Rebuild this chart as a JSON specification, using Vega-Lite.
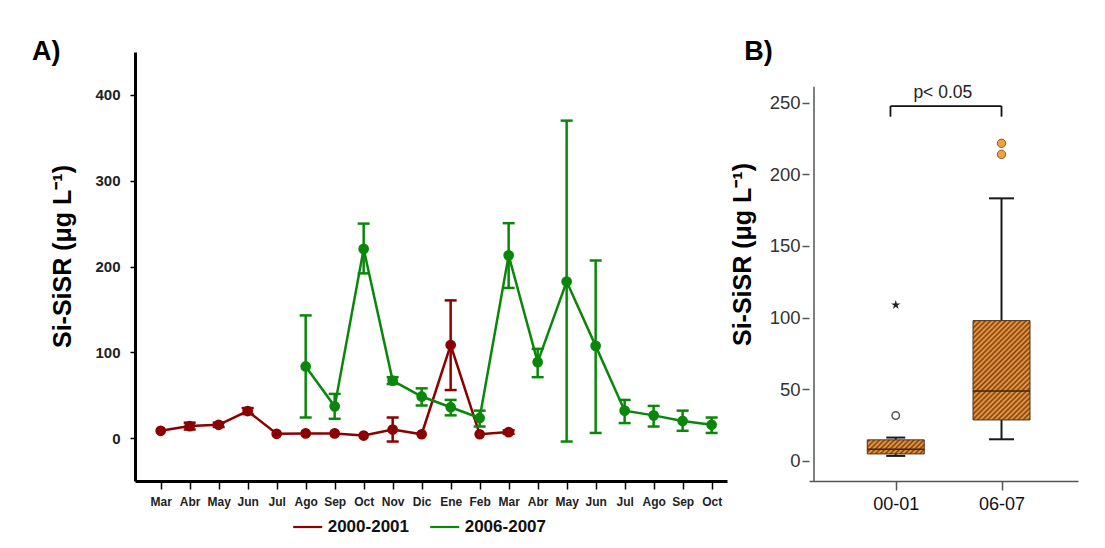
{
"$schema": "https://vega.github.io/schema/vega-lite/v6.json",
"background": "white",
"padding": {"left": 32, "top": 37, "right": 5, "bottom": 5},
"spacing": 3,
"config": {"font": "Liberation Sans", "view": {"stroke": null}, "axis": {"grid": false}},
"datasets": {
"ts": [
{"i":0,"s":"2000-2001","v":8.5,"lo":null,"hi":null},
{"i":1,"s":"2000-2001","v":14,"lo":10,"hi":18},
{"i":2,"s":"2000-2001","v":15.5,"lo":13,"hi":18},
{"i":3,"s":"2000-2001","v":31.5,"lo":28,"hi":35},
{"i":4,"s":"2000-2001","v":5,"lo":null,"hi":null},
{"i":5,"s":"2000-2001","v":5.5,"lo":null,"hi":null},
{"i":6,"s":"2000-2001","v":5.5,"lo":null,"hi":null},
{"i":7,"s":"2000-2001","v":3,"lo":null,"hi":null},
{"i":8,"s":"2000-2001","v":10,"lo":-4,"hi":24},
{"i":9,"s":"2000-2001","v":4.5,"lo":null,"hi":null},
{"i":10,"s":"2000-2001","v":108.5,"lo":56,"hi":160.5},
{"i":11,"s":"2000-2001","v":4.5,"lo":null,"hi":null},
{"i":12,"s":"2000-2001","v":7,"lo":5,"hi":9},
{"i":5,"s":"2006-2007","v":83.5,"lo":24,"hi":143},
{"i":6,"s":"2006-2007","v":37,"lo":22.5,"hi":51.5},
{"i":7,"s":"2006-2007","v":220.5,"lo":192,"hi":250},
{"i":8,"s":"2006-2007","v":67,"lo":63,"hi":71},
{"i":9,"s":"2006-2007","v":48.5,"lo":38,"hi":58},
{"i":10,"s":"2006-2007","v":36,"lo":26.5,"hi":44.5},
{"i":11,"s":"2006-2007","v":23.5,"lo":13.5,"hi":32},
{"i":12,"s":"2006-2007","v":213,"lo":175,"hi":250.5},
{"i":13,"s":"2006-2007","v":88.5,"lo":71,"hi":104},
{"i":14,"s":"2006-2007","v":182.5,"lo":-4,"hi":370},
{"i":15,"s":"2006-2007","v":107.5,"lo":6,"hi":207},
{"i":16,"s":"2006-2007","v":32,"lo":17.5,"hi":44.5},
{"i":17,"s":"2006-2007","v":26.5,"lo":13.5,"hi":37.5},
{"i":18,"s":"2006-2007","v":20,"lo":8.5,"hi":32},
{"i":19,"s":"2006-2007","v":15.5,"lo":6,"hi":24}
],
"boxes": [
{"g":0,"lo":3.5,"q1":4.9,"med":8.2,"q3":14.7,"hi":16.3},
{"g":1,"lo":15.1,"q1":28.6,"med":48.8,"q3":97.9,"hi":183.2}
],
"outl": [
{"g":0,"v":31.7,"kind":"outlier"},
{"g":0,"v":108.8,"kind":"extreme"},
{"g":1,"v":213.9,"kind":"outlier2"},
{"g":1,"v":221.6,"kind":"outlier2"}
],
"brk": [
{"x":-0.05,"x2":1.0,"y":247.6,"y2":247.6},
{"x":-0.05,"x2":-0.05,"y":247.6,"y2":240.2},
{"x":1.0,"x2":1.0,"y":247.6,"y2":240.2}
],
"axisline": [{"x":-0.773,"y":-14,"y2":261}],
"lbl": [{"x":0.445,"y":253,"t":"p< 0.05"}]
},
"hconcat": [
{
"width": 592, "height": 429,
"title": {"text": "A)", "fontSize": 27, "fontWeight": "bold", "anchor": "start", "frame": "group", "dx": -103, "offset": -40.7, "baseline": "bottom", "color": "#000"},
"data": {"name": "ts"},
"layer": [
{"mark": {"type": "line", "strokeWidth": 2.5},
 "encoding": {
  "x": {"field": "i", "type": "quantitative", "scale": {"domain": [-0.886, 19.53], "nice": false, "zero": false},
        "axis": {"values": [0,1,2,3,4,5,6,7,8,9,10,11,12,13,14,15,16,17,18,19], "tickCount": 40,
                 "labelExpr": "['Mar','Abr','May','Jun','Jul','Ago','Sep','Oct','Nov','Dic','Ene','Feb','Mar','Abr','May','Jun','Jul','Ago','Sep','Oct'][datum.value]",
                 "title": null, "labelFontSize": 12, "labelFontWeight": "bold", "labelColor": "#222", "labelPadding": 7,
                 "tickSize": 8, "tickColor": "#000", "tickWidth": 1.5, "domainColor": "#000", "domainWidth": 3,
                 "labelFlush": false, "labelOverlap": false}},
  "y": {"field": "v", "type": "quantitative", "scale": {"domain": [-50, 450], "nice": false, "zero": false},
        "axis": {"values": [0,100,200,300,400], "tickCount": 10, "title": "Si-SiSR (μg L⁻¹)", "titleFontSize": 25, "titleFontWeight": "bold",
                 "titleColor": "#000", "titleX": -60, "titleY": 204, "titleAngle": -90, "titleAlign": "center", "titleBaseline": "bottom",
                 "labelFontSize": 15, "labelFontWeight": "bold", "labelColor": "#222", "labelPadding": 10,
                 "tickSize": 5, "tickColor": "#000", "tickWidth": 1.5, "domainColor": "#000", "domainWidth": 3}},
  "color": {"field": "s", "type": "nominal", "scale": {"domain": ["2000-2001", "2006-2007"], "range": ["#8b0000", "#0a870a"]},
            "legend": {"orient": "none", "legendX": 156.7, "legendY": 459, "direction": "horizontal", "title": null,
                       "symbolType": "stroke", "symbolSize": 841, "symbolStrokeWidth": 2.2, "labelFontSize": 17,
                       "labelFontWeight": "bold", "labelColor": "#111", "labelOffset": 4, "columnPadding": 16}}
 }},
{"mark": {"type": "rule", "strokeWidth": 2.5, "opacity": 1},
 "encoding": {
  "x": {"field": "i", "type": "quantitative"},
  "y": {"field": "lo", "type": "quantitative"},
  "y2": {"field": "hi"},
  "color": {"field": "s", "type": "nominal"}
 }},
{"mark": {"type": "tick", "orient": "horizontal", "size": 12, "thickness": 2.5, "opacity": 1},
 "encoding": {
  "x": {"field": "i", "type": "quantitative"},
  "y": {"field": "lo", "type": "quantitative"},
  "color": {"field": "s", "type": "nominal"}
 }},
{"mark": {"type": "tick", "orient": "horizontal", "size": 12, "thickness": 2.5, "opacity": 1},
 "encoding": {
  "x": {"field": "i", "type": "quantitative"},
  "y": {"field": "hi", "type": "quantitative"},
  "color": {"field": "s", "type": "nominal"}
 }},
{"mark": {"type": "circle", "size": 115, "opacity": 1},
 "encoding": {
  "x": {"field": "i", "type": "quantitative"},
  "y": {"field": "v", "type": "quantitative"},
  "color": {"field": "s", "type": "nominal"}
 }}
]
},
{
"width": 269, "height": 429,
"title": {"text": "B)", "fontSize": 27, "fontWeight": "bold", "anchor": "start", "frame": "group", "dx": -64.7, "offset": -40.7, "baseline": "bottom", "color": "#000"},
"layer": [
{"data": {"name": "boxes"},
 "mark": {"type": "rule", "strokeWidth": 2, "color": "#1a1a1a"},
 "encoding": {
  "x": {"field": "g", "type": "quantitative", "scale": {"domain": [-0.773, 1.676], "nice": false, "zero": false},
        "axis": {"values": [0, 1], "labelExpr": "datum.value == 0 ? '00-01' : '06-07'", "title": null,
                 "labelFontSize": 18, "labelColor": "#111", "labelPadding": 5, "tickSize": 9, "tickColor": "#555",
                 "tickWidth": 1.5, "domainColor": "#555", "domainWidth": 1.5, "labelFlush": false}},
  "y": {"field": "q3", "type": "quantitative", "scale": {"domain": [-14, 285.3], "nice": false, "zero": false},
        "axis": {"values": [0,50,100,150,200,250], "tickCount": 12, "title": "Si-SiSR (μg L⁻¹)", "titleFontSize": 25, "titleFontWeight": "bold",
                 "titleColor": "#000", "titleX": -54, "titleY": 202, "titleAngle": -90, "titleAlign": "center", "titleBaseline": "bottom",
                 "labelFontSize": 18.5, "labelColor": "#333", "labelPadding": 2, "tickSize": 7, "tickColor": "#555",
                 "tickWidth": 1.5, "domain": false}},
  "y2": {"field": "hi"}
 }},
{"data": {"name": "axisline"},
 "mark": {"type": "rule", "strokeWidth": 1.5, "color": "#555"},
 "encoding": {
  "x": {"field": "x", "type": "quantitative"},
  "y": {"field": "y", "type": "quantitative"},
  "y2": {"field": "y2"}
 }},
{"data": {"name": "boxes"},
 "mark": {"type": "rule", "strokeWidth": 2, "color": "#1a1a1a"},
 "encoding": {
  "x": {"field": "g", "type": "quantitative"},
  "y": {"field": "lo", "type": "quantitative"},
  "y2": {"field": "q1"}
 }},
{"data": {"name": "boxes"},
 "mark": {"type": "tick", "orient": "horizontal", "thickness": 2, "color": "#1a1a1a", "opacity": 1},
 "encoding": {
  "x": {"field": "g", "type": "quantitative"},
  "y": {"field": "hi", "type": "quantitative"},
  "size": {"condition": {"test": "datum.g == 0", "value": 19}, "value": 25}
 }},
{"data": {"name": "boxes"},
 "mark": {"type": "tick", "orient": "horizontal", "thickness": 2, "color": "#1a1a1a", "opacity": 1},
 "encoding": {
  "x": {"field": "g", "type": "quantitative"},
  "y": {"field": "lo", "type": "quantitative"},
  "size": {"condition": {"test": "datum.g == 0", "value": 19}, "value": 25}
 }},
{"data": {"name": "boxes"},
 "transform": [{"filter": "datum.g == 0"}],
 "mark": {"type": "bar", "size": 57, "stroke": "#4d3319", "strokeWidth": 1,
          "fill": {"gradient": "linear", "x1": 0, "y1": 0, "x2": 1.2, "y2": 0.295, "stops": [
{"offset":0,"color":"#f4a446"},{"offset":0.034,"color":"#7e3d10"},{"offset":0.068,"color":"#f4a446"},{"offset":0.102,"color":"#7e3d10"},
{"offset":0.136,"color":"#f4a446"},{"offset":0.17,"color":"#7e3d10"},{"offset":0.204,"color":"#f4a446"},{"offset":0.238,"color":"#7e3d10"},
{"offset":0.272,"color":"#f4a446"},{"offset":0.306,"color":"#7e3d10"},{"offset":0.34,"color":"#f4a446"},{"offset":0.374,"color":"#7e3d10"},
{"offset":0.408,"color":"#f4a446"},{"offset":0.442,"color":"#7e3d10"},{"offset":0.476,"color":"#f4a446"},{"offset":0.51,"color":"#7e3d10"},
{"offset":0.544,"color":"#f4a446"},{"offset":0.578,"color":"#7e3d10"},{"offset":0.612,"color":"#f4a446"},{"offset":0.646,"color":"#7e3d10"},
{"offset":0.68,"color":"#f4a446"},{"offset":0.714,"color":"#7e3d10"},{"offset":0.748,"color":"#f4a446"},{"offset":0.782,"color":"#7e3d10"},
{"offset":0.816,"color":"#f4a446"},{"offset":0.85,"color":"#7e3d10"},{"offset":0.884,"color":"#f4a446"},{"offset":0.918,"color":"#7e3d10"},
{"offset":0.952,"color":"#f4a446"},{"offset":0.986,"color":"#7e3d10"},{"offset":1,"color":"#f4a446"}]}},
 "encoding": {
  "x": {"field": "g", "type": "quantitative"},
  "y": {"field": "q1", "type": "quantitative"},
  "y2": {"field": "q3"}
 }},
{"data": {"name": "boxes"},
 "transform": [{"filter": "datum.g == 1"}],
 "mark": {"type": "bar", "size": 57, "stroke": "#4d3319", "strokeWidth": 1,
          "fill": {"gradient": "linear", "x1": 0, "y1": 0, "x2": 1, "y2": 1.742, "stops": [
{"offset":0,"color":"#f4a446"},{"offset":0.011,"color":"#7e3d10"},{"offset":0.022,"color":"#f4a446"},{"offset":0.033,"color":"#7e3d10"},
{"offset":0.044,"color":"#f4a446"},{"offset":0.055,"color":"#7e3d10"},{"offset":0.066,"color":"#f4a446"},{"offset":0.077,"color":"#7e3d10"},
{"offset":0.088,"color":"#f4a446"},{"offset":0.099,"color":"#7e3d10"},{"offset":0.11,"color":"#f4a446"},{"offset":0.121,"color":"#7e3d10"},
{"offset":0.132,"color":"#f4a446"},{"offset":0.143,"color":"#7e3d10"},{"offset":0.154,"color":"#f4a446"},{"offset":0.165,"color":"#7e3d10"},
{"offset":0.176,"color":"#f4a446"},{"offset":0.187,"color":"#7e3d10"},{"offset":0.198,"color":"#f4a446"},{"offset":0.209,"color":"#7e3d10"},
{"offset":0.22,"color":"#f4a446"},{"offset":0.231,"color":"#7e3d10"},{"offset":0.242,"color":"#f4a446"},{"offset":0.253,"color":"#7e3d10"},
{"offset":0.264,"color":"#f4a446"},{"offset":0.275,"color":"#7e3d10"},{"offset":0.286,"color":"#f4a446"},{"offset":0.297,"color":"#7e3d10"},
{"offset":0.308,"color":"#f4a446"},{"offset":0.319,"color":"#7e3d10"},{"offset":0.33,"color":"#f4a446"},{"offset":0.341,"color":"#7e3d10"},
{"offset":0.352,"color":"#f4a446"},{"offset":0.363,"color":"#7e3d10"},{"offset":0.374,"color":"#f4a446"},{"offset":0.385,"color":"#7e3d10"},
{"offset":0.396,"color":"#f4a446"},{"offset":0.407,"color":"#7e3d10"},{"offset":0.418,"color":"#f4a446"},{"offset":0.429,"color":"#7e3d10"},
{"offset":0.44,"color":"#f4a446"},{"offset":0.451,"color":"#7e3d10"},{"offset":0.462,"color":"#f4a446"},{"offset":0.473,"color":"#7e3d10"},
{"offset":0.484,"color":"#f4a446"},{"offset":0.495,"color":"#7e3d10"},{"offset":0.506,"color":"#f4a446"},{"offset":0.517,"color":"#7e3d10"},
{"offset":0.528,"color":"#f4a446"},{"offset":0.539,"color":"#7e3d10"},{"offset":0.55,"color":"#f4a446"},{"offset":0.561,"color":"#7e3d10"},
{"offset":0.572,"color":"#f4a446"},{"offset":0.583,"color":"#7e3d10"},{"offset":0.594,"color":"#f4a446"},{"offset":0.605,"color":"#7e3d10"},
{"offset":0.616,"color":"#f4a446"},{"offset":0.627,"color":"#7e3d10"},{"offset":0.638,"color":"#f4a446"},{"offset":0.649,"color":"#7e3d10"},
{"offset":0.66,"color":"#f4a446"},{"offset":0.671,"color":"#7e3d10"},{"offset":0.682,"color":"#f4a446"},{"offset":0.693,"color":"#7e3d10"},
{"offset":0.704,"color":"#f4a446"}]}},
 "encoding": {
  "x": {"field": "g", "type": "quantitative"},
  "y": {"field": "q1", "type": "quantitative"},
  "y2": {"field": "q3"}
 }},
{"data": {"name": "boxes"},
 "mark": {"type": "tick", "orient": "horizontal", "size": 57, "thickness": 1.5, "color": "#3b2410", "opacity": 1},
 "encoding": {
  "x": {"field": "g", "type": "quantitative"},
  "y": {"field": "med", "type": "quantitative"}
 }},
{"data": {"name": "outl"},
 "transform": [{"filter": "datum.kind == 'outlier'"}],
 "mark": {"type": "point", "shape": "circle", "size": 55, "filled": false, "stroke": "#555", "strokeWidth": 1.5, "fill": "white", "opacity": 1},
 "encoding": {
  "x": {"field": "g", "type": "quantitative"},
  "y": {"field": "v", "type": "quantitative"}
 }},
{"data": {"name": "outl"},
 "transform": [{"filter": "datum.kind == 'extreme'"}],
 "mark": {"type": "point", "shape": "M0,-1L0.2245,-0.309L0.951,-0.309L0.363,0.118L0.588,0.809L0,0.382L-0.588,0.809L-0.363,0.118L-0.951,-0.309L-0.2245,-0.309Z", "size": 95, "filled": true, "color": "#222", "opacity": 1},
 "encoding": {
  "x": {"field": "g", "type": "quantitative"},
  "y": {"field": "v", "type": "quantitative"}
 }},
{"data": {"name": "outl"},
 "transform": [{"filter": "datum.kind == 'outlier2'"}],
 "mark": {"type": "point", "shape": "circle", "size": 70, "filled": true, "fill": "#f5a040", "stroke": "#8a5a20", "strokeWidth": 1, "opacity": 1},
 "encoding": {
  "x": {"field": "g", "type": "quantitative"},
  "y": {"field": "v", "type": "quantitative"}
 }},
{"data": {"name": "brk"},
 "mark": {"type": "rule", "strokeWidth": 1.8, "color": "#111"},
 "encoding": {
  "x": {"field": "x", "type": "quantitative"},
  "x2": {"field": "x2"},
  "y": {"field": "y", "type": "quantitative"},
  "y2": {"field": "y2"}
 }},
{"data": {"name": "lbl"},
 "mark": {"type": "text", "fontSize": 17.5, "color": "#222", "align": "center", "baseline": "alphabetic"},
 "encoding": {
  "x": {"field": "x", "type": "quantitative"},
  "y": {"field": "y", "type": "quantitative"},
  "text": {"field": "t"}
 }}
]
}
]
}
